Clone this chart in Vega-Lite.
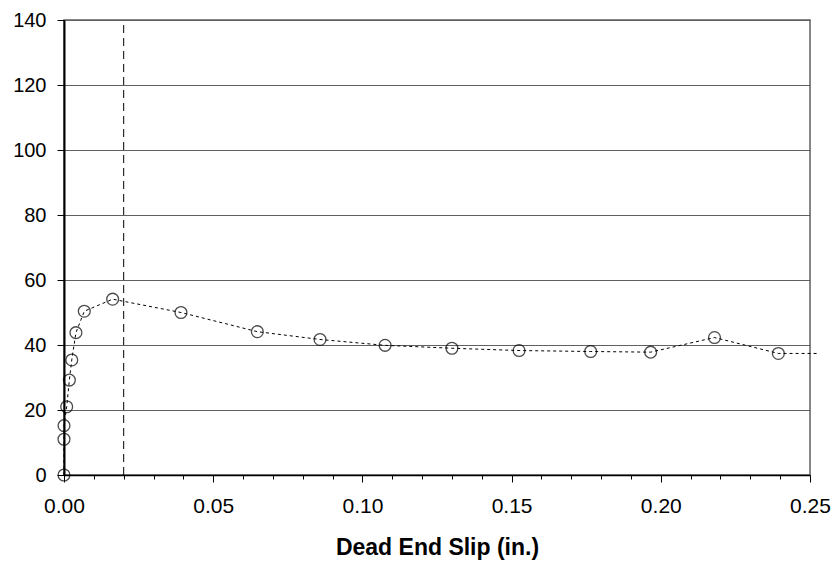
{
  "$schema": "https://vega.github.io/schema/vega-lite/v6.json",
  "width": 746,
  "height": 455,
  "autosize": {"type": "none"},
  "padding": {"left": 64, "top": 20, "right": 25, "bottom": 90},
  "background": "white",
  "config": {
    "font": "Liberation Sans",
    "view": {"stroke": "#606060", "strokeWidth": 1.5},
    "axis": {
      "labelFont": "Liberation Sans",
      "labelColor": "black",
      "titleFont": "Liberation Sans",
      "titleColor": "black",
      "tickColor": "black",
      "domainColor": "black"
    },
    "axisX": {"grid": false, "domainWidth": 1.5},
    "axisY": {"grid": true, "gridColor": "#606060", "gridWidth": 1.2, "tickSize": 7, "domainWidth": 2}
  },
  "data": {
    "values": [
      {"slip": 0.0, "load": 0.0, "marker": true},
      {"slip": 0.0, "load": 11.0, "marker": true},
      {"slip": 0.0, "load": 15.2, "marker": true},
      {"slip": 0.0009, "load": 21.0, "marker": true},
      {"slip": 0.0018, "load": 29.2, "marker": true},
      {"slip": 0.0026, "load": 35.4, "marker": true},
      {"slip": 0.004, "load": 43.8, "marker": true},
      {"slip": 0.0068, "load": 50.4, "marker": true},
      {"slip": 0.0163, "load": 54.1, "marker": true},
      {"slip": 0.0392, "load": 50.0, "marker": true},
      {"slip": 0.0648, "load": 44.1, "marker": true},
      {"slip": 0.0858, "load": 41.7, "marker": true},
      {"slip": 0.1076, "load": 39.9, "marker": true},
      {"slip": 0.130, "load": 39.0, "marker": true},
      {"slip": 0.1525, "load": 38.3, "marker": true},
      {"slip": 0.1765, "load": 38.0, "marker": true},
      {"slip": 0.1966, "load": 37.8, "marker": true},
      {"slip": 0.218, "load": 42.3, "marker": true},
      {"slip": 0.2394, "load": 37.4, "marker": true},
      {"slip": 0.2527, "load": 37.4, "marker": false}
    ]
  },
  "encoding": {
    "x": {
      "field": "slip", "type": "quantitative",
      "scale": {"domain": [0, 0.25], "nice": false, "zero": false},
      "axis": {
        "values": [0, 0.01, 0.02, 0.03, 0.04, 0.05, 0.06, 0.07, 0.08, 0.09, 0.1, 0.11, 0.12, 0.13, 0.14, 0.15, 0.16, 0.17, 0.18, 0.19, 0.2, 0.21, 0.22, 0.23, 0.24, 0.25],
        "labelExpr": "indexof(['0.00','0.05','0.10','0.15','0.20','0.25'], format(datum.value, '.2f')) >= 0 ? format(datum.value, '.2f') : ''",
        "tickSize": {"condition": {"test": "indexof(['0.00','0.05','0.10','0.15','0.20','0.25'], format(datum.value, '.2f')) >= 0", "value": 7}, "value": 4},
        "labelOverlap": false,
        "labelFlush": false,
        "labelBound": false,
        "labelFontSize": 21,
        "labelPadding": 13,
        "title": "Dead End Slip (in.)",
        "titleFontSize": 23,
        "titleFontWeight": "bold",
        "titlePadding": 20
      }
    },
    "y": {
      "field": "load", "type": "quantitative",
      "scale": {"domain": [0, 140], "nice": false},
      "axis": {
        "values": [0, 20, 40, 60, 80, 100, 120, 140],
        "labelOverlap": false,
        "labelFontSize": 20,
        "labelPadding": 11,
        "title": null
      }
    }
  },
  "layer": [
    {
      "mark": {"type": "line", "color": "black", "strokeWidth": 1, "strokeDash": [3, 3], "clip": false}
    },
    {
      "transform": [{"filter": "datum.marker"}],
      "mark": {"type": "point", "shape": "circle", "filled": false, "color": "black", "strokeWidth": 1.3, "size": 140, "clip": false}
    },
    {
      "data": {"values": [{"slip": 0.02, "lo": 0, "hi": 140}]},
      "mark": {"type": "rule", "color": "black", "strokeWidth": 1, "strokeDash": [8, 5]},
      "encoding": {
        "y": {"field": "lo", "type": "quantitative"},
        "y2": {"field": "hi"}
      }
    }
  ]
}
